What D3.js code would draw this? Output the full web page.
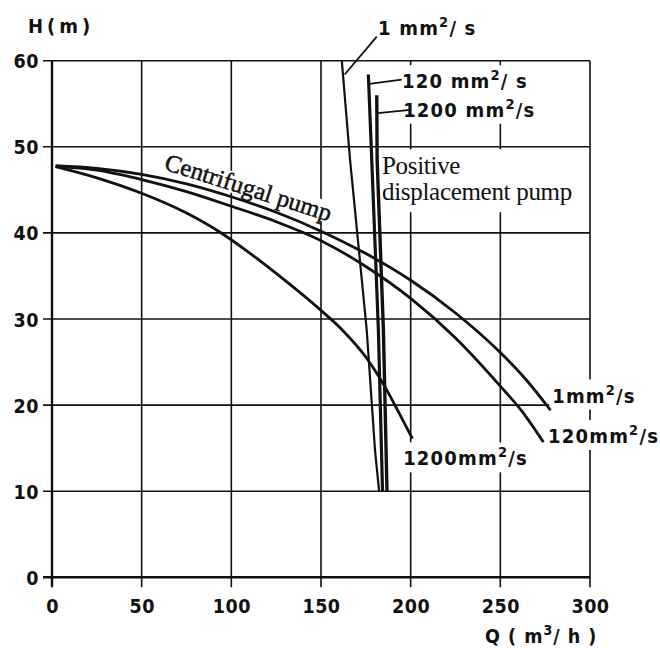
<!DOCTYPE html>
<html><head><meta charset="utf-8">
<script src="https://cdn.jsdelivr.net/npm/d3@7"></script>
<style>body{margin:0;background:#fff}</style>
</head><body><svg id="c" width="660" height="648"></svg>
<script>
// ---- data ----
const xTicks = [0, 50, 100, 150, 200, 250, 300];
const yTicks = [0, 10, 20, 30, 40, 50, 60];
// Centrifugal pump: Q (m3/h), H (m)
const cen1Q    = [2, 25, 50, 75, 100, 125, 150, 175, 200, 225, 250, 265, 278];
const cen1H    = [47.8, 47.5, 46.8, 45.7, 44.2, 42.4, 40.2, 37.6, 34.5, 30.7, 26.1, 22.8, 19.4];
const cen120Q  = [2, 25, 50, 75, 100, 125, 150, 175, 200, 225, 250, 262, 274];
const cen120H  = [47.7, 47.3, 46.2, 44.8, 43.1, 41.3, 39.1, 36.1, 32.4, 27.8, 22.2, 19.3, 15.7];
const cen1200Q = [2, 25, 50, 75, 93.5, 108, 125, 150, 162, 176, 186, 193, 201];
const cen1200H = [47.7, 46.4, 44.6, 42.3, 40.1, 38.0, 35.3, 31.0, 28.7, 25.3, 22.0, 19.3, 16.1];
// Positive displacement pump
const pd1Q    = [161.6, 166.2, 175.5, 180.1, 182.4];
const pd1H    = [60, 48.5, 28.7, 14.8, 10];
const pd120Q  = [176.4, 178.3, 182.0, 184.3];
const pd120H  = [58.4, 48.5, 28.7, 10];
const pd1200Q = [181.1, 181.3, 184.8, 186.8];
const pd1200H = [56.0, 48.5, 28.7, 10];

// ---- drawing ----
const svg = d3.select("#c");
svg.append("rect").attr("width", 660).attr("height", 648).attr("fill", "#fff");
const x = d3.scaleLinear().domain([0, 300]).range([52, 590]);
const y = d3.scaleLinear().domain([0, 60]).range([577.3, 60.7]);
const INK = "#111";
const SANS = "'DejaVu Sans Condensed','DejaVu Sans',sans-serif";
const SERIF = "'Liberation Serif','Times New Roman',serif";

const gGrid = svg.append("g");
const gBg = svg.append("g");
const gCurve = svg.append("g");
const gText = svg.append("g");

// grid lines
gGrid.selectAll("line.v").data(xTicks).join("line")
  .attr("x1", d => x(d)).attr("x2", d => x(d))
  .attr("y1", y(60)).attr("y2", y(0) + 10)
  .attr("stroke", INK).attr("stroke-width", d => d === 0 ? 2.4 : 1.6);
gGrid.selectAll("line.h").data(yTicks).join("line")
  .attr("y1", d => y(d)).attr("y2", d => y(d))
  .attr("x1", x(0) - 9).attr("x2", x(300))
  .attr("stroke", INK).attr("stroke-width", d => d === 0 ? 2.4 : 1.6);

// axes (labels only)
const xAxis = gText.append("g").attr("transform", `translate(0,${y(0)})`)
  .call(d3.axisBottom(x).tickValues(xTicks).tickSize(0).tickPadding(22));
const yAxis = gText.append("g").attr("transform", `translate(${x(0)},0)`)
  .call(d3.axisLeft(y).tickValues(yTicks).tickSize(0).tickPadding(13));
[xAxis, yAxis].forEach(a => {
  a.select(".domain").remove();
  a.selectAll("text").attr("font-family", SANS).attr("font-weight", "bold")
    .attr("font-size", 19.5).attr("fill", INK).attr("letter-spacing", 0.5);
});
yAxis.selectAll("text").attr("dy", "0.36em");

// curves
const pts = (qs, hs) => qs.map((q, i) => [q, hs[i]]);
const lineC = d3.line().x(d => x(d[0])).y(d => y(d[1])).curve(d3.curveMonotoneX);
const lineP = d3.line().x(d => x(d[0])).y(d => y(d[1])).curve(d3.curveLinear);
[[cen1Q, cen1H], [cen120Q, cen120H], [cen1200Q, cen1200H]].forEach(([q, h]) => {
  gCurve.append("path").attr("d", lineC(pts(q, h)))
    .attr("fill", "none").attr("stroke", INK).attr("stroke-width", 2.8);
});
[[pd1Q, pd1H, 2.2], [pd120Q, pd120H, 3.2], [pd1200Q, pd1200H, 3.4]].forEach(([q, h, w]) => {
  gCurve.append("path").attr("d", lineP(pts(q, h)))
    .attr("fill", "none").attr("stroke", INK).attr("stroke-width", w);
});

// leader lines (data coordinates)
const leaders = [[[181.1, 62.8], [163.2, 58.4]], [[195, 57.8], [176.9, 57.3]], [[199.7, 54.3], [181.6, 53.9]]];
leaders.forEach(l => {
  gCurve.append("line")
    .attr("x1", x(l[0][0])).attr("y1", y(l[0][1]))
    .attr("x2", x(l[1][0])).attr("y2", y(l[1][1]))
    .attr("stroke", INK).attr("stroke-width", 1.8);
});

// labels with superscripts
function supLabel(g, q, h, base, sup, tail, bg) {
  const t = g.append("text").attr("x", x(q)).attr("y", y(h))
    .attr("font-family", SANS).attr("font-weight", "bold").attr("font-size", 20)
    .attr("letter-spacing", 1.2).attr("fill", INK);
  t.append("tspan").text(base);
  t.append("tspan").attr("dy", -8).attr("font-size", 14.5).text(sup);
  t.append("tspan").attr("dy", 8).text(tail);
  if (bg) {
    const b = t.node().getBBox();
    gBg.append("rect").attr("x", b.x - 3).attr("y", b.y - 2)
      .attr("width", b.width + 6).attr("height", b.height + 4).attr("fill", "#fff");
  }
  return t;
}
supLabel(gText, 181.8, 63.0, "1 mm", "2", "/ s", false);
supLabel(gText, 195.2, 56.8, "120 mm", "2", "/ s", true);
supLabel(gText, 195.8, 53.5, "1200 mm", "2", "/s", true);
supLabel(gText, 278.9, 20.3, "1mm", "2", "/s", true);
supLabel(gText, 276.6, 15.6, "120mm", "2", "/s", true);
supLabel(gText, 195.8, 13.0, "1200mm", "2", "/s", true);

// axis titles
gText.append("text").attr("x", 28).attr("y", 33)
  .attr("font-family", SANS).attr("font-weight", "bold").attr("font-size", 20)
  .attr("letter-spacing", 4).attr("fill", INK).text("H(m)");
const qt = gText.append("text").attr("x", 485).attr("y", 643)
  .attr("font-family", SANS).attr("font-weight", "bold").attr("font-size", 19.5)
  .attr("letter-spacing", 1).attr("fill", INK);
qt.append("tspan").text("Q ( m");
qt.append("tspan").attr("dy", -8).attr("font-size", 14).text("3");
qt.append("tspan").attr("dy", 8).text("/ h )");

// Positive displacement pump label
const pdl = gText.append("g");
pdl.append("text").attr("x", x(184)).attr("y", y(46.8)).text("Positive");
pdl.append("text").attr("x", x(184)).attr("y", y(43.8)).text("displacement pump");
pdl.selectAll("text").attr("font-family", SERIF).attr("font-size", 25).attr("fill", INK)
  .attr("letter-spacing", -0.3);
{
  const b = pdl.node().getBBox();
  gBg.append("rect").attr("x", b.x - 3).attr("y", b.y - 3)
    .attr("width", b.width + 6).attr("height", b.height + 10).attr("fill", "#fff");
}

// Centrifugal pump label (rotated)
const cx0 = x(62), cy0 = y(47.4);
const cg = gText.append("g").attr("transform", `translate(${cx0},${cy0}) rotate(17.5)`);
const ct = cg.append("text").attr("x", 0).attr("y", 0)
  .attr("font-family", SERIF).attr("font-size", 24.5).attr("fill", INK)
  .attr("stroke", INK).attr("stroke-width", 0.5).text("Centrifugal pump");
{
  const b = ct.node().getBBox();
  gBg.append("rect").attr("transform", `translate(${cx0},${cy0}) rotate(17.5)`)
    .attr("x", b.x - 2).attr("y", b.y + 3).attr("width", b.width + 4).attr("height", b.height - 6)
    .attr("fill", "#fff");
}
</script></body></html>
